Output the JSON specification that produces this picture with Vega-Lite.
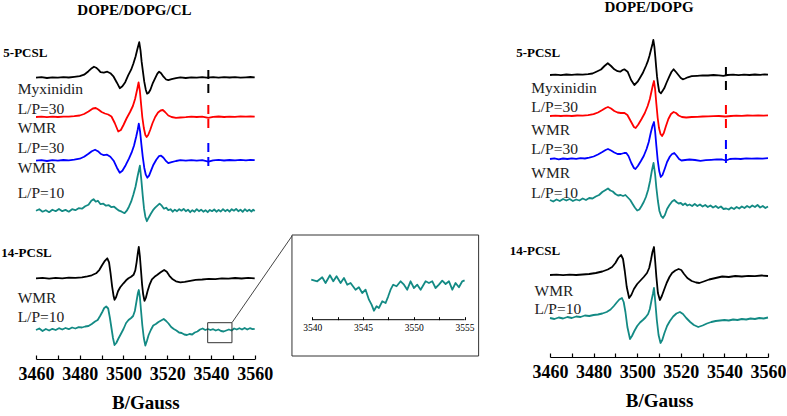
{
"$schema": "https://vega.github.io/schema/vega-lite/v6.json",
"background": "white",
"padding": {"left": 1, "top": 0, "right": 0, "bottom": 0},
"spacing": 20,
"bounds": "flush",
"config": {
  "view": {"stroke": null},
  "font": "Liberation Serif",
  "axis": {"grid": false, "labelFont": "Liberation Serif", "labelFontSize": 18, "labelFontWeight": "bold", "labelColor": "#000", "titleFont": "Liberation Serif", "titleFontSize": 19, "titleFontWeight": "bold", "titleColor": "#000", "domainColor": "#000", "tickColor": "#000", "domainWidth": 1.2, "tickWidth": 1.2, "labelFlush": false, "labelOverlap": false}
},
"datasets": {
"left": [
{"p":"5","s":"ctrl","x":3460,"y":281.3},{"p":"5","s":"ctrl","x":3462.5,"y":281.8},{"p":"5","s":"ctrl","x":3465,"y":281.0},{"p":"5","s":"ctrl","x":3467.5,"y":281.7},{"p":"5","s":"ctrl","x":3470,"y":281.3},{"p":"5","s":"ctrl","x":3472.5,"y":281.9},{"p":"5","s":"ctrl","x":3475,"y":281.5},{"p":"5","s":"ctrl","x":3477.5,"y":282.1},{"p":"5","s":"ctrl","x":3480,"y":282.8},{"p":"5","s":"ctrl","x":3482,"y":284.3},{"p":"5","s":"ctrl","x":3484,"y":287.8},{"p":"5","s":"ctrl","x":3485.5,"y":290.8},{"p":"5","s":"ctrl","x":3486.5,"y":292.3},{"p":"5","s":"ctrl","x":3487.5,"y":291.3},{"p":"5","s":"ctrl","x":3488.5,"y":289.3},{"p":"5","s":"ctrl","x":3489.5,"y":286.8},{"p":"5","s":"ctrl","x":3491,"y":286.3},{"p":"5","s":"ctrl","x":3492.6,"y":287.3},{"p":"5","s":"ctrl","x":3494,"y":285.8},{"p":"5","s":"ctrl","x":3495.5,"y":282.3},{"p":"5","s":"ctrl","x":3497,"y":276.3},{"p":"5","s":"ctrl","x":3498.3,"y":270.8},{"p":"5","s":"ctrl","x":3499.5,"y":272.8},{"p":"5","s":"ctrl","x":3500.8,"y":276.8},{"p":"5","s":"ctrl","x":3502.2,"y":283.8},{"p":"5","s":"ctrl","x":3503.5,"y":289.3},{"p":"5","s":"ctrl","x":3504.5,"y":295.3},{"p":"5","s":"ctrl","x":3505.5,"y":302.3},{"p":"5","s":"ctrl","x":3506.4,"y":310.3},{"p":"5","s":"ctrl","x":3507.2,"y":316.8},{"p":"5","s":"ctrl","x":3507.8,"y":308.3},{"p":"5","s":"ctrl","x":3508.3,"y":297.3},{"p":"5","s":"ctrl","x":3508.9,"y":287.3},{"p":"5","s":"ctrl","x":3509.5,"y":277.3},{"p":"5","s":"ctrl","x":3510.2,"y":269.3},{"p":"5","s":"ctrl","x":3510.8,"y":265.3},{"p":"5","s":"ctrl","x":3511.5,"y":266.3},{"p":"5","s":"ctrl","x":3512.3,"y":269.3},{"p":"5","s":"ctrl","x":3513.3,"y":275.3},{"p":"5","s":"ctrl","x":3514.5,"y":280.8},{"p":"5","s":"ctrl","x":3515.5,"y":285.3},{"p":"5","s":"ctrl","x":3516.3,"y":287.3},{"p":"5","s":"ctrl","x":3517.2,"y":285.8},{"p":"5","s":"ctrl","x":3518.3,"y":282.3},{"p":"5","s":"ctrl","x":3519.5,"y":279.5},{"p":"5","s":"ctrl","x":3520.5,"y":278.8},{"p":"5","s":"ctrl","x":3522,"y":279.8},{"p":"5","s":"ctrl","x":3524,"y":280.8},{"p":"5","s":"ctrl","x":3526,"y":281.6},{"p":"5","s":"ctrl","x":3528.5,"y":281.0},{"p":"5","s":"ctrl","x":3531,"y":281.7},{"p":"5","s":"ctrl","x":3533.5,"y":281.3},{"p":"5","s":"ctrl","x":3536,"y":281.8},{"p":"5","s":"ctrl","x":3538,"y":281.3},{"p":"5","s":"ctrl","x":3541,"y":281.8},{"p":"5","s":"ctrl","x":3543.5,"y":281.3},{"p":"5","s":"ctrl","x":3546,"y":281.9},{"p":"5","s":"ctrl","x":3548.5,"y":281.5},{"p":"5","s":"ctrl","x":3551,"y":281.8},{"p":"5","s":"ctrl","x":3553.5,"y":281.3},{"p":"5","s":"ctrl","x":3556,"y":281.7},{"p":"5","s":"ctrl","x":3558,"y":282.0},{"p":"5","s":"ctrl","x":3560,"y":281.6},
{"p":"5","s":"myx","x":3460,"y":242},{"p":"5","s":"myx","x":3462.5,"y":242.3},{"p":"5","s":"myx","x":3465,"y":241.8},{"p":"5","s":"myx","x":3467.5,"y":242.3},{"p":"5","s":"myx","x":3470,"y":242},{"p":"5","s":"myx","x":3472.5,"y":242.4},{"p":"5","s":"myx","x":3475,"y":242.3},{"p":"5","s":"myx","x":3477.5,"y":242.8},{"p":"5","s":"myx","x":3480,"y":243.5},{"p":"5","s":"myx","x":3482,"y":245},{"p":"5","s":"myx","x":3484,"y":247.5},{"p":"5","s":"myx","x":3486,"y":250.5},{"p":"5","s":"myx","x":3487.3,"y":251},{"p":"5","s":"myx","x":3488.5,"y":249.5},{"p":"5","s":"myx","x":3490,"y":247},{"p":"5","s":"myx","x":3491.5,"y":245.5},{"p":"5","s":"myx","x":3493,"y":244.5},{"p":"5","s":"myx","x":3494.5,"y":242.5},{"p":"5","s":"myx","x":3496,"y":236},{"p":"5","s":"myx","x":3497.6,"y":227.5},{"p":"5","s":"myx","x":3498.8,"y":229},{"p":"5","s":"myx","x":3500,"y":234},{"p":"5","s":"myx","x":3501.5,"y":241},{"p":"5","s":"myx","x":3503,"y":247},{"p":"5","s":"myx","x":3504.3,"y":253},{"p":"5","s":"myx","x":3505.3,"y":260},{"p":"5","s":"myx","x":3506.2,"y":269},{"p":"5","s":"myx","x":3506.9,"y":276.5},{"p":"5","s":"myx","x":3507.5,"y":268},{"p":"5","s":"myx","x":3508,"y":256},{"p":"5","s":"myx","x":3508.6,"y":242},{"p":"5","s":"myx","x":3509.3,"y":231},{"p":"5","s":"myx","x":3510,"y":224},{"p":"5","s":"myx","x":3510.6,"y":222},{"p":"5","s":"myx","x":3511.3,"y":224},{"p":"5","s":"myx","x":3512.2,"y":229},{"p":"5","s":"myx","x":3513.3,"y":236},{"p":"5","s":"myx","x":3514.5,"y":242},{"p":"5","s":"myx","x":3515.8,"y":246.5},{"p":"5","s":"myx","x":3517,"y":248.5},{"p":"5","s":"myx","x":3518,"y":249},{"p":"5","s":"myx","x":3519,"y":247},{"p":"5","s":"myx","x":3520.5,"y":243.5},{"p":"5","s":"myx","x":3522,"y":242},{"p":"5","s":"myx","x":3524,"y":241.2},{"p":"5","s":"myx","x":3526,"y":241.5},{"p":"5","s":"myx","x":3528.5,"y":241.8},{"p":"5","s":"myx","x":3531,"y":242.3},{"p":"5","s":"myx","x":3533.5,"y":242},{"p":"5","s":"myx","x":3536,"y":242.3},{"p":"5","s":"myx","x":3538.8,"y":241.2},{"p":"5","s":"myx","x":3541,"y":242.2},{"p":"5","s":"myx","x":3543.5,"y":242.5},{"p":"5","s":"myx","x":3546,"y":242},{"p":"5","s":"myx","x":3548.5,"y":242.4},{"p":"5","s":"myx","x":3551,"y":242.2},{"p":"5","s":"myx","x":3553.5,"y":242.6},{"p":"5","s":"myx","x":3556,"y":242.3},{"p":"5","s":"myx","x":3558,"y":242.6},{"p":"5","s":"myx","x":3560,"y":242.4},
{"p":"5","s":"wmr30","x":3460,"y":198.3},{"p":"5","s":"wmr30","x":3462.5,"y":198.8},{"p":"5","s":"wmr30","x":3465,"y":198.0},{"p":"5","s":"wmr30","x":3467.5,"y":198.9},{"p":"5","s":"wmr30","x":3470,"y":198.3},{"p":"5","s":"wmr30","x":3472.5,"y":199.0},{"p":"5","s":"wmr30","x":3475,"y":198.6},{"p":"5","s":"wmr30","x":3477.5,"y":199.3},{"p":"5","s":"wmr30","x":3480,"y":200.3},{"p":"5","s":"wmr30","x":3482,"y":202.3},{"p":"5","s":"wmr30","x":3484,"y":205.3},{"p":"5","s":"wmr30","x":3485.5,"y":207.8},{"p":"5","s":"wmr30","x":3487,"y":209.3},{"p":"5","s":"wmr30","x":3488.3,"y":207.8},{"p":"5","s":"wmr30","x":3489.5,"y":205.3},{"p":"5","s":"wmr30","x":3491,"y":203.8},{"p":"5","s":"wmr30","x":3492.5,"y":204.3},{"p":"5","s":"wmr30","x":3494,"y":202.3},{"p":"5","s":"wmr30","x":3495.5,"y":198.3},{"p":"5","s":"wmr30","x":3497,"y":191.3},{"p":"5","s":"wmr30","x":3498.3,"y":186.3},{"p":"5","s":"wmr30","x":3499.5,"y":188.3},{"p":"5","s":"wmr30","x":3501,"y":193.8},{"p":"5","s":"wmr30","x":3502.5,"y":200.3},{"p":"5","s":"wmr30","x":3503.7,"y":206.3},{"p":"5","s":"wmr30","x":3504.8,"y":213.3},{"p":"5","s":"wmr30","x":3505.8,"y":222.3},{"p":"5","s":"wmr30","x":3506.5,"y":229.3},{"p":"5","s":"wmr30","x":3507,"y":235.3},{"p":"5","s":"wmr30","x":3507.6,"y":227.3},{"p":"5","s":"wmr30","x":3508.2,"y":214.3},{"p":"5","s":"wmr30","x":3508.8,"y":202.3},{"p":"5","s":"wmr30","x":3509.5,"y":191.3},{"p":"5","s":"wmr30","x":3510.2,"y":184.3},{"p":"5","s":"wmr30","x":3510.9,"y":181.3},{"p":"5","s":"wmr30","x":3511.7,"y":183.3},{"p":"5","s":"wmr30","x":3512.6,"y":188.3},{"p":"5","s":"wmr30","x":3513.7,"y":194.3},{"p":"5","s":"wmr30","x":3515,"y":199.3},{"p":"5","s":"wmr30","x":3516.2,"y":202.8},{"p":"5","s":"wmr30","x":3517.2,"y":203.3},{"p":"5","s":"wmr30","x":3518.3,"y":201.3},{"p":"5","s":"wmr30","x":3519.5,"y":197.8},{"p":"5","s":"wmr30","x":3520.5,"y":195.8},{"p":"5","s":"wmr30","x":3522,"y":196.8},{"p":"5","s":"wmr30","x":3524,"y":198.0},{"p":"5","s":"wmr30","x":3526,"y":198.8},{"p":"5","s":"wmr30","x":3528.5,"y":198.3},{"p":"5","s":"wmr30","x":3531,"y":198.9},{"p":"5","s":"wmr30","x":3533.5,"y":198.3},{"p":"5","s":"wmr30","x":3536,"y":198.8},{"p":"5","s":"wmr30","x":3538.8,"y":197.3},{"p":"5","s":"wmr30","x":3541,"y":198.7},{"p":"5","s":"wmr30","x":3543.5,"y":199.1},{"p":"5","s":"wmr30","x":3546,"y":198.5},{"p":"5","s":"wmr30","x":3548.5,"y":199.0},{"p":"5","s":"wmr30","x":3551,"y":198.6},{"p":"5","s":"wmr30","x":3553.5,"y":199.1},{"p":"5","s":"wmr30","x":3556,"y":198.7},{"p":"5","s":"wmr30","x":3558,"y":199.2},{"p":"5","s":"wmr30","x":3560,"y":198.9},
{"p":"5","s":"wmr10","x":3460,"y":148.3},{"p":"5","s":"wmr10","x":3461.5,"y":149.8},{"p":"5","s":"wmr10","x":3463,"y":147.3},{"p":"5","s":"wmr10","x":3464.5,"y":148.8},{"p":"5","s":"wmr10","x":3466,"y":146.8},{"p":"5","s":"wmr10","x":3467.5,"y":149.3},{"p":"5","s":"wmr10","x":3469,"y":147.8},{"p":"5","s":"wmr10","x":3470.5,"y":150.1},{"p":"5","s":"wmr10","x":3472,"y":147.8},{"p":"5","s":"wmr10","x":3473.5,"y":149.1},{"p":"5","s":"wmr10","x":3475,"y":147.3},{"p":"5","s":"wmr10","x":3476.5,"y":149.8},{"p":"5","s":"wmr10","x":3478,"y":148.8},{"p":"5","s":"wmr10","x":3479.5,"y":150.8},{"p":"5","s":"wmr10","x":3481,"y":150.3},{"p":"5","s":"wmr10","x":3482.5,"y":152.8},{"p":"5","s":"wmr10","x":3484,"y":154.3},{"p":"5","s":"wmr10","x":3485.3,"y":158.3},{"p":"5","s":"wmr10","x":3486.3,"y":159.8},{"p":"5","s":"wmr10","x":3487.3,"y":157.3},{"p":"5","s":"wmr10","x":3488.3,"y":158.3},{"p":"5","s":"wmr10","x":3489.5,"y":154.8},{"p":"5","s":"wmr10","x":3490.8,"y":155.3},{"p":"5","s":"wmr10","x":3492,"y":153.3},{"p":"5","s":"wmr10","x":3493.3,"y":153.8},{"p":"5","s":"wmr10","x":3494.5,"y":151.8},{"p":"5","s":"wmr10","x":3495.7,"y":152.3},{"p":"5","s":"wmr10","x":3496.8,"y":150.3},{"p":"5","s":"wmr10","x":3498,"y":148.3},{"p":"5","s":"wmr10","x":3499.2,"y":147.3},{"p":"5","s":"wmr10","x":3500.5,"y":145.8},{"p":"5","s":"wmr10","x":3501.5,"y":148.3},{"p":"5","s":"wmr10","x":3502.5,"y":152.3},{"p":"5","s":"wmr10","x":3503.5,"y":157.3},{"p":"5","s":"wmr10","x":3504.5,"y":164.3},{"p":"5","s":"wmr10","x":3505.5,"y":172.3},{"p":"5","s":"wmr10","x":3506.5,"y":183.3},{"p":"5","s":"wmr10","x":3507.5,"y":193.3},{"p":"5","s":"wmr10","x":3508.2,"y":178.3},{"p":"5","s":"wmr10","x":3508.8,"y":163.3},{"p":"5","s":"wmr10","x":3509.4,"y":150.3},{"p":"5","s":"wmr10","x":3510,"y":142.3},{"p":"5","s":"wmr10","x":3510.7,"y":137.8},{"p":"5","s":"wmr10","x":3511.5,"y":141.3},{"p":"5","s":"wmr10","x":3512.5,"y":145.3},{"p":"5","s":"wmr10","x":3513.5,"y":148.8},{"p":"5","s":"wmr10","x":3514.5,"y":151.3},{"p":"5","s":"wmr10","x":3515.5,"y":153.3},{"p":"5","s":"wmr10","x":3516.5,"y":155.3},{"p":"5","s":"wmr10","x":3517.5,"y":153.3},{"p":"5","s":"wmr10","x":3518.5,"y":150.3},{"p":"5","s":"wmr10","x":3519.5,"y":151.3},{"p":"5","s":"wmr10","x":3520.5,"y":148.8},{"p":"5","s":"wmr10","x":3521.5,"y":149.8},{"p":"5","s":"wmr10","x":3522.5,"y":147.3},{"p":"5","s":"wmr10","x":3523.5,"y":149.3},{"p":"5","s":"wmr10","x":3524.5,"y":147.8},{"p":"5","s":"wmr10","x":3525.5,"y":149.8},{"p":"5","s":"wmr10","x":3526.5,"y":148.3},{"p":"5","s":"wmr10","x":3527.5,"y":150.1},{"p":"5","s":"wmr10","x":3528.5,"y":147.8},{"p":"5","s":"wmr10","x":3529.5,"y":149.3},{"p":"5","s":"wmr10","x":3530.5,"y":146.8},{"p":"5","s":"wmr10","x":3531.5,"y":148.8},{"p":"5","s":"wmr10","x":3532.5,"y":147.3},{"p":"5","s":"wmr10","x":3533.5,"y":149.8},{"p":"5","s":"wmr10","x":3534.5,"y":147.8},{"p":"5","s":"wmr10","x":3535.5,"y":149.3},{"p":"5","s":"wmr10","x":3536.5,"y":147.3},{"p":"5","s":"wmr10","x":3537.5,"y":148.8},{"p":"5","s":"wmr10","x":3538.5,"y":146.8},{"p":"5","s":"wmr10","x":3539.5,"y":149.1},{"p":"5","s":"wmr10","x":3540.5,"y":147.8},{"p":"5","s":"wmr10","x":3541.5,"y":149.5},{"p":"5","s":"wmr10","x":3542.5,"y":147.3},{"p":"5","s":"wmr10","x":3543.5,"y":149.1},{"p":"5","s":"wmr10","x":3544.5,"y":147.5},{"p":"5","s":"wmr10","x":3545.5,"y":149.8},{"p":"5","s":"wmr10","x":3546.5,"y":147.8},{"p":"5","s":"wmr10","x":3547.5,"y":149.3},{"p":"5","s":"wmr10","x":3548.5,"y":147.3},{"p":"5","s":"wmr10","x":3549.5,"y":149.8},{"p":"5","s":"wmr10","x":3550.5,"y":148.3},{"p":"5","s":"wmr10","x":3551.5,"y":150.1},{"p":"5","s":"wmr10","x":3552.5,"y":147.8},{"p":"5","s":"wmr10","x":3553.5,"y":149.3},{"p":"5","s":"wmr10","x":3554.5,"y":147.1},{"p":"5","s":"wmr10","x":3555.5,"y":149.8},{"p":"5","s":"wmr10","x":3556.5,"y":147.8},{"p":"5","s":"wmr10","x":3557.5,"y":149.3},{"p":"5","s":"wmr10","x":3558.5,"y":147.5},{"p":"5","s":"wmr10","x":3559.3,"y":149.3},{"p":"5","s":"wmr10","x":3560,"y":148.0},
{"p":"14","s":"ctrl","x":3460,"y":80.7},{"p":"14","s":"ctrl","x":3463,"y":81.2},{"p":"14","s":"ctrl","x":3466,"y":80.4},{"p":"14","s":"ctrl","x":3469,"y":81.1},{"p":"14","s":"ctrl","x":3472,"y":80.7},{"p":"14","s":"ctrl","x":3475,"y":81.3},{"p":"14","s":"ctrl","x":3478,"y":81.2},{"p":"14","s":"ctrl","x":3481,"y":81.7},{"p":"14","s":"ctrl","x":3483.5,"y":82.7},{"p":"14","s":"ctrl","x":3485.5,"y":83.7},{"p":"14","s":"ctrl","x":3487.5,"y":85.7},{"p":"14","s":"ctrl","x":3489,"y":89.2},{"p":"14","s":"ctrl","x":3490.2,"y":93.7},{"p":"14","s":"ctrl","x":3491.5,"y":98.2},{"p":"14","s":"ctrl","x":3492.6,"y":100.7},{"p":"14","s":"ctrl","x":3493.4,"y":96.7},{"p":"14","s":"ctrl","x":3494.1,"y":85.7},{"p":"14","s":"ctrl","x":3494.8,"y":72.7},{"p":"14","s":"ctrl","x":3495.5,"y":62.7},{"p":"14","s":"ctrl","x":3495.9,"y":59.2},{"p":"14","s":"ctrl","x":3496.6,"y":61.7},{"p":"14","s":"ctrl","x":3497.5,"y":67.7},{"p":"14","s":"ctrl","x":3498.5,"y":71.7},{"p":"14","s":"ctrl","x":3500,"y":75.7},{"p":"14","s":"ctrl","x":3501.2,"y":78.7},{"p":"14","s":"ctrl","x":3502.3,"y":80.7},{"p":"14","s":"ctrl","x":3503.5,"y":82.2},{"p":"14","s":"ctrl","x":3504.6,"y":84.2},{"p":"14","s":"ctrl","x":3505.4,"y":88.7},{"p":"14","s":"ctrl","x":3506,"y":96.7},{"p":"14","s":"ctrl","x":3506.6,"y":106.7},{"p":"14","s":"ctrl","x":3507,"y":112.2},{"p":"14","s":"ctrl","x":3507.5,"y":102.7},{"p":"14","s":"ctrl","x":3508,"y":88.7},{"p":"14","s":"ctrl","x":3508.5,"y":74.7},{"p":"14","s":"ctrl","x":3509,"y":64.7},{"p":"14","s":"ctrl","x":3509.6,"y":58.2},{"p":"14","s":"ctrl","x":3510.3,"y":61.7},{"p":"14","s":"ctrl","x":3511,"y":67.7},{"p":"14","s":"ctrl","x":3512,"y":74.7},{"p":"14","s":"ctrl","x":3513,"y":79.7},{"p":"14","s":"ctrl","x":3514.2,"y":82.2},{"p":"14","s":"ctrl","x":3515.5,"y":84.2},{"p":"14","s":"ctrl","x":3517,"y":86.7},{"p":"14","s":"ctrl","x":3518.6,"y":89.0},{"p":"14","s":"ctrl","x":3519.8,"y":87.2},{"p":"14","s":"ctrl","x":3521,"y":83.2},{"p":"14","s":"ctrl","x":3522.5,"y":79.7},{"p":"14","s":"ctrl","x":3524,"y":77.7},{"p":"14","s":"ctrl","x":3526,"y":76.7},{"p":"14","s":"ctrl","x":3528,"y":77.2},{"p":"14","s":"ctrl","x":3530.5,"y":78.2},{"p":"14","s":"ctrl","x":3533,"y":79.2},{"p":"14","s":"ctrl","x":3536,"y":79.5},{"p":"14","s":"ctrl","x":3539,"y":80.2},{"p":"14","s":"ctrl","x":3542,"y":79.9},{"p":"14","s":"ctrl","x":3545,"y":80.7},{"p":"14","s":"ctrl","x":3548,"y":80.3},{"p":"14","s":"ctrl","x":3551,"y":81.0},{"p":"14","s":"ctrl","x":3554,"y":80.5},{"p":"14","s":"ctrl","x":3557,"y":81.1},{"p":"14","s":"ctrl","x":3560,"y":80.7},
{"p":"14","s":"wmr10","x":3460,"y":29},{"p":"14","s":"wmr10","x":3461.5,"y":30.5},{"p":"14","s":"wmr10","x":3463,"y":28},{"p":"14","s":"wmr10","x":3464.5,"y":30},{"p":"14","s":"wmr10","x":3466,"y":28.5},{"p":"14","s":"wmr10","x":3467.5,"y":30.2},{"p":"14","s":"wmr10","x":3469,"y":29},{"p":"14","s":"wmr10","x":3470.5,"y":30.8},{"p":"14","s":"wmr10","x":3472,"y":29.5},{"p":"14","s":"wmr10","x":3473.5,"y":31},{"p":"14","s":"wmr10","x":3475,"y":29.8},{"p":"14","s":"wmr10","x":3476.5,"y":31.5},{"p":"14","s":"wmr10","x":3478,"y":30.5},{"p":"14","s":"wmr10","x":3479.5,"y":31.8},{"p":"14","s":"wmr10","x":3481,"y":31.5},{"p":"14","s":"wmr10","x":3482.5,"y":32.5},{"p":"14","s":"wmr10","x":3484,"y":33},{"p":"14","s":"wmr10","x":3485.5,"y":35},{"p":"14","s":"wmr10","x":3487,"y":37.5},{"p":"14","s":"wmr10","x":3488.2,"y":39},{"p":"14","s":"wmr10","x":3489.3,"y":43},{"p":"14","s":"wmr10","x":3490.3,"y":47},{"p":"14","s":"wmr10","x":3491.2,"y":51},{"p":"14","s":"wmr10","x":3492.1,"y":52.5},{"p":"14","s":"wmr10","x":3493,"y":50.5},{"p":"14","s":"wmr10","x":3493.8,"y":41},{"p":"14","s":"wmr10","x":3494.5,"y":31},{"p":"14","s":"wmr10","x":3495.2,"y":21},{"p":"14","s":"wmr10","x":3495.9,"y":14},{"p":"14","s":"wmr10","x":3496.7,"y":16},{"p":"14","s":"wmr10","x":3497.7,"y":20.5},{"p":"14","s":"wmr10","x":3498.8,"y":25},{"p":"14","s":"wmr10","x":3500,"y":30},{"p":"14","s":"wmr10","x":3501.2,"y":36},{"p":"14","s":"wmr10","x":3502.3,"y":39},{"p":"14","s":"wmr10","x":3503.5,"y":41},{"p":"14","s":"wmr10","x":3504.4,"y":43},{"p":"14","s":"wmr10","x":3505.2,"y":48},{"p":"14","s":"wmr10","x":3505.9,"y":57},{"p":"14","s":"wmr10","x":3506.6,"y":66},{"p":"14","s":"wmr10","x":3507,"y":69},{"p":"14","s":"wmr10","x":3507.5,"y":62},{"p":"14","s":"wmr10","x":3508,"y":49},{"p":"14","s":"wmr10","x":3508.6,"y":34},{"p":"14","s":"wmr10","x":3509.3,"y":21},{"p":"14","s":"wmr10","x":3510,"y":13.5},{"p":"14","s":"wmr10","x":3510.7,"y":18},{"p":"14","s":"wmr10","x":3511.5,"y":24},{"p":"14","s":"wmr10","x":3512.5,"y":29},{"p":"14","s":"wmr10","x":3513.6,"y":33.5},{"p":"14","s":"wmr10","x":3514.8,"y":35},{"p":"14","s":"wmr10","x":3516,"y":37},{"p":"14","s":"wmr10","x":3517.2,"y":38.5},{"p":"14","s":"wmr10","x":3518.4,"y":40},{"p":"14","s":"wmr10","x":3519.5,"y":38},{"p":"14","s":"wmr10","x":3520.6,"y":35.5},{"p":"14","s":"wmr10","x":3521.8,"y":32},{"p":"14","s":"wmr10","x":3523,"y":30},{"p":"14","s":"wmr10","x":3524.2,"y":28.5},{"p":"14","s":"wmr10","x":3525.4,"y":26.5},{"p":"14","s":"wmr10","x":3526.6,"y":26},{"p":"14","s":"wmr10","x":3527.8,"y":24.5},{"p":"14","s":"wmr10","x":3529,"y":24},{"p":"14","s":"wmr10","x":3530.2,"y":25},{"p":"14","s":"wmr10","x":3531.4,"y":24.5},{"p":"14","s":"wmr10","x":3532.6,"y":26.5},{"p":"14","s":"wmr10","x":3533.8,"y":27.5},{"p":"14","s":"wmr10","x":3535,"y":29.5},{"p":"14","s":"wmr10","x":3536.2,"y":30.5},{"p":"14","s":"wmr10","x":3537.4,"y":29},{"p":"14","s":"wmr10","x":3538.6,"y":30},{"p":"14","s":"wmr10","x":3539.8,"y":29},{"p":"14","s":"wmr10","x":3541,"y":29.8},{"p":"14","s":"wmr10","x":3542.2,"y":28.5},{"p":"14","s":"wmr10","x":3543.4,"y":29.5},{"p":"14","s":"wmr10","x":3544.6,"y":28},{"p":"14","s":"wmr10","x":3545.8,"y":27.5},{"p":"14","s":"wmr10","x":3547,"y":28.5},{"p":"14","s":"wmr10","x":3548.2,"y":29.5},{"p":"14","s":"wmr10","x":3549.4,"y":28.5},{"p":"14","s":"wmr10","x":3550.6,"y":30.5},{"p":"14","s":"wmr10","x":3551.8,"y":29.5},{"p":"14","s":"wmr10","x":3553,"y":30.8},{"p":"14","s":"wmr10","x":3554.2,"y":29.5},{"p":"14","s":"wmr10","x":3555.4,"y":31},{"p":"14","s":"wmr10","x":3556.6,"y":29.5},{"p":"14","s":"wmr10","x":3557.8,"y":30.8},{"p":"14","s":"wmr10","x":3559,"y":29.8},{"p":"14","s":"wmr10","x":3560,"y":30.2}
],
"right": [
{"p":"5","s":"ctrl","x":3460,"y":282},{"p":"5","s":"ctrl","x":3462.5,"y":282.4},{"p":"5","s":"ctrl","x":3465,"y":281.8},{"p":"5","s":"ctrl","x":3467.5,"y":282.5},{"p":"5","s":"ctrl","x":3470,"y":282.1},{"p":"5","s":"ctrl","x":3472.5,"y":282.6},{"p":"5","s":"ctrl","x":3475,"y":282.3},{"p":"5","s":"ctrl","x":3477.5,"y":282.8},{"p":"5","s":"ctrl","x":3479.5,"y":283.5},{"p":"5","s":"ctrl","x":3481.5,"y":285.5},{"p":"5","s":"ctrl","x":3483.4,"y":287.5},{"p":"5","s":"ctrl","x":3485,"y":291},{"p":"5","s":"ctrl","x":3486.5,"y":293.7},{"p":"5","s":"ctrl","x":3488,"y":291},{"p":"5","s":"ctrl","x":3489.5,"y":287.7},{"p":"5","s":"ctrl","x":3491,"y":285.8},{"p":"5","s":"ctrl","x":3492.2,"y":285.3},{"p":"5","s":"ctrl","x":3493.3,"y":287},{"p":"5","s":"ctrl","x":3494.1,"y":287.7},{"p":"5","s":"ctrl","x":3495.6,"y":285.3},{"p":"5","s":"ctrl","x":3497.2,"y":277},{"p":"5","s":"ctrl","x":3498.7,"y":272},{"p":"5","s":"ctrl","x":3500.2,"y":275.3},{"p":"5","s":"ctrl","x":3501.5,"y":280},{"p":"5","s":"ctrl","x":3502.5,"y":283.7},{"p":"5","s":"ctrl","x":3504,"y":291},{"p":"5","s":"ctrl","x":3504.8,"y":295.3},{"p":"5","s":"ctrl","x":3505.6,"y":301},{"p":"5","s":"ctrl","x":3506.3,"y":307},{"p":"5","s":"ctrl","x":3507,"y":313},{"p":"5","s":"ctrl","x":3507.4,"y":317},{"p":"5","s":"ctrl","x":3507.9,"y":310},{"p":"5","s":"ctrl","x":3508.3,"y":300.3},{"p":"5","s":"ctrl","x":3508.7,"y":290},{"p":"5","s":"ctrl","x":3509.1,"y":280.3},{"p":"5","s":"ctrl","x":3509.6,"y":272},{"p":"5","s":"ctrl","x":3510.1,"y":265.3},{"p":"5","s":"ctrl","x":3510.9,"y":263.7},{"p":"5","s":"ctrl","x":3511.6,"y":266},{"p":"5","s":"ctrl","x":3512.4,"y":268.7},{"p":"5","s":"ctrl","x":3513.5,"y":274.5},{"p":"5","s":"ctrl","x":3514.7,"y":280.3},{"p":"5","s":"ctrl","x":3515.7,"y":285},{"p":"5","s":"ctrl","x":3516.7,"y":287.7},{"p":"5","s":"ctrl","x":3517.8,"y":285},{"p":"5","s":"ctrl","x":3518.9,"y":282},{"p":"5","s":"ctrl","x":3520,"y":279},{"p":"5","s":"ctrl","x":3520.9,"y":277.7},{"p":"5","s":"ctrl","x":3522,"y":278.5},{"p":"5","s":"ctrl","x":3523.2,"y":279.7},{"p":"5","s":"ctrl","x":3525,"y":280.8},{"p":"5","s":"ctrl","x":3527.5,"y":281.2},{"p":"5","s":"ctrl","x":3530,"y":281.7},{"p":"5","s":"ctrl","x":3532.5,"y":281.5},{"p":"5","s":"ctrl","x":3535,"y":282},{"p":"5","s":"ctrl","x":3537.5,"y":281.7},{"p":"5","s":"ctrl","x":3539.5,"y":281.2},{"p":"5","s":"ctrl","x":3541.5,"y":282},{"p":"5","s":"ctrl","x":3544,"y":282.3},{"p":"5","s":"ctrl","x":3546.5,"y":281.8},{"p":"5","s":"ctrl","x":3549,"y":282.4},{"p":"5","s":"ctrl","x":3551.5,"y":282},{"p":"5","s":"ctrl","x":3554,"y":282.5},{"p":"5","s":"ctrl","x":3556.5,"y":282.2},{"p":"5","s":"ctrl","x":3558.5,"y":282.6},{"p":"5","s":"ctrl","x":3560,"y":282.3},
{"p":"5","s":"myx","x":3460,"y":241},{"p":"5","s":"myx","x":3462.5,"y":241.3},{"p":"5","s":"myx","x":3465,"y":241},{"p":"5","s":"myx","x":3467.5,"y":241.4},{"p":"5","s":"myx","x":3470,"y":241},{"p":"5","s":"myx","x":3472.5,"y":241.5},{"p":"5","s":"myx","x":3475,"y":241.3},{"p":"5","s":"myx","x":3477.5,"y":241.8},{"p":"5","s":"myx","x":3480,"y":242.8},{"p":"5","s":"myx","x":3482,"y":244.5},{"p":"5","s":"myx","x":3484,"y":247},{"p":"5","s":"myx","x":3485.5,"y":249},{"p":"5","s":"myx","x":3486.6,"y":250},{"p":"5","s":"myx","x":3488,"y":248.5},{"p":"5","s":"myx","x":3489.5,"y":246},{"p":"5","s":"myx","x":3491,"y":244.5},{"p":"5","s":"myx","x":3492.5,"y":244},{"p":"5","s":"myx","x":3494,"y":244.2},{"p":"5","s":"myx","x":3495.5,"y":242},{"p":"5","s":"myx","x":3497,"y":236},{"p":"5","s":"myx","x":3498.5,"y":230},{"p":"5","s":"myx","x":3499.3,"y":229},{"p":"5","s":"myx","x":3500.5,"y":232.5},{"p":"5","s":"myx","x":3502,"y":238},{"p":"5","s":"myx","x":3503.5,"y":244},{"p":"5","s":"myx","x":3504.8,"y":251},{"p":"5","s":"myx","x":3505.8,"y":258},{"p":"5","s":"myx","x":3506.6,"y":266},{"p":"5","s":"myx","x":3507.2,"y":272},{"p":"5","s":"myx","x":3507.7,"y":276},{"p":"5","s":"myx","x":3508.2,"y":268},{"p":"5","s":"myx","x":3508.8,"y":253},{"p":"5","s":"myx","x":3509.4,"y":239},{"p":"5","s":"myx","x":3510,"y":229},{"p":"5","s":"myx","x":3510.7,"y":223},{"p":"5","s":"myx","x":3511.4,"y":221},{"p":"5","s":"myx","x":3512.2,"y":224},{"p":"5","s":"myx","x":3513.2,"y":231},{"p":"5","s":"myx","x":3514.3,"y":238},{"p":"5","s":"myx","x":3515.5,"y":243},{"p":"5","s":"myx","x":3516.7,"y":245},{"p":"5","s":"myx","x":3517.8,"y":244},{"p":"5","s":"myx","x":3519,"y":241.5},{"p":"5","s":"myx","x":3520.5,"y":240},{"p":"5","s":"myx","x":3522.5,"y":239.5},{"p":"5","s":"myx","x":3525,"y":240},{"p":"5","s":"myx","x":3527.5,"y":240.2},{"p":"5","s":"myx","x":3530,"y":240.5},{"p":"5","s":"myx","x":3532.5,"y":240.7},{"p":"5","s":"myx","x":3535,"y":240.8},{"p":"5","s":"myx","x":3537.5,"y":241},{"p":"5","s":"myx","x":3540.5,"y":240.5},{"p":"5","s":"myx","x":3543,"y":241},{"p":"5","s":"myx","x":3545.5,"y":241.3},{"p":"5","s":"myx","x":3548,"y":241.1},{"p":"5","s":"myx","x":3550.5,"y":241.5},{"p":"5","s":"myx","x":3553,"y":241.3},{"p":"5","s":"myx","x":3555.5,"y":241.6},{"p":"5","s":"myx","x":3558,"y":241.4},{"p":"5","s":"myx","x":3560,"y":241.7},
{"p":"5","s":"wmr30","x":3460,"y":198},{"p":"5","s":"wmr30","x":3462,"y":198.6},{"p":"5","s":"wmr30","x":3464,"y":197.7},{"p":"5","s":"wmr30","x":3466,"y":198.5},{"p":"5","s":"wmr30","x":3468,"y":198},{"p":"5","s":"wmr30","x":3470,"y":198.7},{"p":"5","s":"wmr30","x":3472,"y":198.2},{"p":"5","s":"wmr30","x":3474,"y":198.8},{"p":"5","s":"wmr30","x":3476,"y":198.5},{"p":"5","s":"wmr30","x":3478,"y":199.3},{"p":"5","s":"wmr30","x":3480,"y":200.5},{"p":"5","s":"wmr30","x":3482,"y":202.5},{"p":"5","s":"wmr30","x":3484,"y":205},{"p":"5","s":"wmr30","x":3485.5,"y":207},{"p":"5","s":"wmr30","x":3486.6,"y":208},{"p":"5","s":"wmr30","x":3488,"y":206.5},{"p":"5","s":"wmr30","x":3489.5,"y":204.5},{"p":"5","s":"wmr30","x":3491,"y":203},{"p":"5","s":"wmr30","x":3492.5,"y":203},{"p":"5","s":"wmr30","x":3494,"y":204},{"p":"5","s":"wmr30","x":3495,"y":204},{"p":"5","s":"wmr30","x":3496,"y":201},{"p":"5","s":"wmr30","x":3497.3,"y":194},{"p":"5","s":"wmr30","x":3498.5,"y":189},{"p":"5","s":"wmr30","x":3499.2,"y":188},{"p":"5","s":"wmr30","x":3500.3,"y":191},{"p":"5","s":"wmr30","x":3501.7,"y":196},{"p":"5","s":"wmr30","x":3503,"y":201},{"p":"5","s":"wmr30","x":3504.3,"y":208},{"p":"5","s":"wmr30","x":3505.3,"y":215},{"p":"5","s":"wmr30","x":3506.2,"y":224},{"p":"5","s":"wmr30","x":3507,"y":231},{"p":"5","s":"wmr30","x":3507.7,"y":235},{"p":"5","s":"wmr30","x":3508.2,"y":226},{"p":"5","s":"wmr30","x":3508.8,"y":211},{"p":"5","s":"wmr30","x":3509.4,"y":197},{"p":"5","s":"wmr30","x":3510.1,"y":186},{"p":"5","s":"wmr30","x":3510.8,"y":180},{"p":"5","s":"wmr30","x":3511.6,"y":182},{"p":"5","s":"wmr30","x":3512.6,"y":188},{"p":"5","s":"wmr30","x":3513.7,"y":195},{"p":"5","s":"wmr30","x":3515,"y":200.5},{"p":"5","s":"wmr30","x":3516,"y":203},{"p":"5","s":"wmr30","x":3517,"y":204},{"p":"5","s":"wmr30","x":3518,"y":201.5},{"p":"5","s":"wmr30","x":3519.2,"y":198},{"p":"5","s":"wmr30","x":3520.3,"y":196.5},{"p":"5","s":"wmr30","x":3522,"y":197},{"p":"5","s":"wmr30","x":3524,"y":197.5},{"p":"5","s":"wmr30","x":3526.5,"y":197},{"p":"5","s":"wmr30","x":3529,"y":196.2},{"p":"5","s":"wmr30","x":3531.5,"y":196.8},{"p":"5","s":"wmr30","x":3534,"y":197.2},{"p":"5","s":"wmr30","x":3536.5,"y":197.7},{"p":"5","s":"wmr30","x":3539,"y":197.5},{"p":"5","s":"wmr30","x":3540.7,"y":196.5},{"p":"5","s":"wmr30","x":3542.5,"y":198},{"p":"5","s":"wmr30","x":3545,"y":198.4},{"p":"5","s":"wmr30","x":3547.5,"y":198},{"p":"5","s":"wmr30","x":3550,"y":198.6},{"p":"5","s":"wmr30","x":3552.5,"y":198.3},{"p":"5","s":"wmr30","x":3555,"y":198.7},{"p":"5","s":"wmr30","x":3557.5,"y":198.4},{"p":"5","s":"wmr30","x":3560,"y":198.8},
{"p":"5","s":"wmr10","x":3460,"y":157},{"p":"5","s":"wmr10","x":3461.5,"y":155.5},{"p":"5","s":"wmr10","x":3463,"y":157.5},{"p":"5","s":"wmr10","x":3464.5,"y":156},{"p":"5","s":"wmr10","x":3466,"y":158},{"p":"5","s":"wmr10","x":3467.5,"y":156.5},{"p":"5","s":"wmr10","x":3469,"y":158},{"p":"5","s":"wmr10","x":3470.5,"y":156},{"p":"5","s":"wmr10","x":3472,"y":157.5},{"p":"5","s":"wmr10","x":3473.5,"y":156.5},{"p":"5","s":"wmr10","x":3475,"y":158.5},{"p":"5","s":"wmr10","x":3476.5,"y":157},{"p":"5","s":"wmr10","x":3478,"y":159},{"p":"5","s":"wmr10","x":3479.5,"y":158.5},{"p":"5","s":"wmr10","x":3481,"y":160.5},{"p":"5","s":"wmr10","x":3482.5,"y":162},{"p":"5","s":"wmr10","x":3484,"y":165},{"p":"5","s":"wmr10","x":3485.5,"y":167},{"p":"5","s":"wmr10","x":3486.6,"y":168.5},{"p":"5","s":"wmr10","x":3487.7,"y":166.5},{"p":"5","s":"wmr10","x":3488.8,"y":165.5},{"p":"5","s":"wmr10","x":3490,"y":163},{"p":"5","s":"wmr10","x":3491.2,"y":161.5},{"p":"5","s":"wmr10","x":3492.4,"y":162},{"p":"5","s":"wmr10","x":3493.5,"y":161},{"p":"5","s":"wmr10","x":3494.6,"y":162},{"p":"5","s":"wmr10","x":3495.7,"y":159.5},{"p":"5","s":"wmr10","x":3496.8,"y":157},{"p":"5","s":"wmr10","x":3497.9,"y":153},{"p":"5","s":"wmr10","x":3498.9,"y":149.5},{"p":"5","s":"wmr10","x":3500,"y":146.5},{"p":"5","s":"wmr10","x":3501,"y":147.5},{"p":"5","s":"wmr10","x":3502,"y":151},{"p":"5","s":"wmr10","x":3503,"y":155},{"p":"5","s":"wmr10","x":3504,"y":160},{"p":"5","s":"wmr10","x":3505,"y":167},{"p":"5","s":"wmr10","x":3505.9,"y":176},{"p":"5","s":"wmr10","x":3506.7,"y":186},{"p":"5","s":"wmr10","x":3507.5,"y":194},{"p":"5","s":"wmr10","x":3508.2,"y":183},{"p":"5","s":"wmr10","x":3508.8,"y":169},{"p":"5","s":"wmr10","x":3509.5,"y":156},{"p":"5","s":"wmr10","x":3510.2,"y":146},{"p":"5","s":"wmr10","x":3511,"y":141},{"p":"5","s":"wmr10","x":3511.8,"y":139},{"p":"5","s":"wmr10","x":3512.7,"y":142},{"p":"5","s":"wmr10","x":3513.7,"y":148},{"p":"5","s":"wmr10","x":3514.8,"y":152},{"p":"5","s":"wmr10","x":3516,"y":155.5},{"p":"5","s":"wmr10","x":3517,"y":157},{"p":"5","s":"wmr10","x":3518,"y":155},{"p":"5","s":"wmr10","x":3519,"y":153.5},{"p":"5","s":"wmr10","x":3520,"y":154},{"p":"5","s":"wmr10","x":3521,"y":152},{"p":"5","s":"wmr10","x":3522,"y":153.5},{"p":"5","s":"wmr10","x":3523,"y":151.5},{"p":"5","s":"wmr10","x":3524,"y":152.5},{"p":"5","s":"wmr10","x":3525.2,"y":151},{"p":"5","s":"wmr10","x":3526.4,"y":153},{"p":"5","s":"wmr10","x":3527.6,"y":151},{"p":"5","s":"wmr10","x":3528.8,"y":152.5},{"p":"5","s":"wmr10","x":3530,"y":150.5},{"p":"5","s":"wmr10","x":3531.2,"y":152},{"p":"5","s":"wmr10","x":3532.4,"y":150},{"p":"5","s":"wmr10","x":3533.6,"y":151.5},{"p":"5","s":"wmr10","x":3534.8,"y":149.5},{"p":"5","s":"wmr10","x":3536,"y":151},{"p":"5","s":"wmr10","x":3537.2,"y":149},{"p":"5","s":"wmr10","x":3538.4,"y":150.5},{"p":"5","s":"wmr10","x":3539.6,"y":148},{"p":"5","s":"wmr10","x":3540.8,"y":148.5},{"p":"5","s":"wmr10","x":3542,"y":147.5},{"p":"5","s":"wmr10","x":3543.2,"y":149.5},{"p":"5","s":"wmr10","x":3544.4,"y":148},{"p":"5","s":"wmr10","x":3545.6,"y":150},{"p":"5","s":"wmr10","x":3546.8,"y":148.5},{"p":"5","s":"wmr10","x":3548,"y":150.5},{"p":"5","s":"wmr10","x":3549.2,"y":149},{"p":"5","s":"wmr10","x":3550.4,"y":151},{"p":"5","s":"wmr10","x":3551.6,"y":149.5},{"p":"5","s":"wmr10","x":3552.8,"y":151.5},{"p":"5","s":"wmr10","x":3554,"y":150},{"p":"5","s":"wmr10","x":3555.2,"y":152},{"p":"5","s":"wmr10","x":3556.4,"y":149.5},{"p":"5","s":"wmr10","x":3557.6,"y":151},{"p":"5","s":"wmr10","x":3558.8,"y":149},{"p":"5","s":"wmr10","x":3560,"y":150.5},
{"p":"14","s":"ctrl","x":3460,"y":82},{"p":"14","s":"ctrl","x":3463,"y":82.4},{"p":"14","s":"ctrl","x":3466,"y":81.8},{"p":"14","s":"ctrl","x":3469,"y":82.3},{"p":"14","s":"ctrl","x":3472,"y":82},{"p":"14","s":"ctrl","x":3475,"y":82.5},{"p":"14","s":"ctrl","x":3478,"y":83},{"p":"14","s":"ctrl","x":3481,"y":84},{"p":"14","s":"ctrl","x":3484,"y":85.5},{"p":"14","s":"ctrl","x":3486.5,"y":87.5},{"p":"14","s":"ctrl","x":3488.5,"y":90},{"p":"14","s":"ctrl","x":3490,"y":94},{"p":"14","s":"ctrl","x":3491.3,"y":99},{"p":"14","s":"ctrl","x":3492.6,"y":102},{"p":"14","s":"ctrl","x":3493.5,"y":98},{"p":"14","s":"ctrl","x":3494.3,"y":86},{"p":"14","s":"ctrl","x":3495.2,"y":70},{"p":"14","s":"ctrl","x":3496.3,"y":59},{"p":"14","s":"ctrl","x":3497.3,"y":62},{"p":"14","s":"ctrl","x":3498.5,"y":68},{"p":"14","s":"ctrl","x":3500,"y":73},{"p":"14","s":"ctrl","x":3501.5,"y":76.5},{"p":"14","s":"ctrl","x":3503,"y":80},{"p":"14","s":"ctrl","x":3504.5,"y":84},{"p":"14","s":"ctrl","x":3505.5,"y":89},{"p":"14","s":"ctrl","x":3506.3,"y":97},{"p":"14","s":"ctrl","x":3507,"y":105},{"p":"14","s":"ctrl","x":3507.7,"y":110},{"p":"14","s":"ctrl","x":3508.2,"y":97},{"p":"14","s":"ctrl","x":3508.8,"y":80},{"p":"14","s":"ctrl","x":3509.5,"y":64},{"p":"14","s":"ctrl","x":3510.4,"y":57},{"p":"14","s":"ctrl","x":3511.3,"y":61},{"p":"14","s":"ctrl","x":3512.3,"y":67},{"p":"14","s":"ctrl","x":3513.5,"y":74},{"p":"14","s":"ctrl","x":3514.8,"y":80},{"p":"14","s":"ctrl","x":3516,"y":84},{"p":"14","s":"ctrl","x":3517.5,"y":86.5},{"p":"14","s":"ctrl","x":3519,"y":88},{"p":"14","s":"ctrl","x":3520.2,"y":87},{"p":"14","s":"ctrl","x":3521.5,"y":83},{"p":"14","s":"ctrl","x":3523,"y":79},{"p":"14","s":"ctrl","x":3525,"y":76},{"p":"14","s":"ctrl","x":3527,"y":74.5},{"p":"14","s":"ctrl","x":3528.5,"y":74},{"p":"14","s":"ctrl","x":3530.5,"y":75.5},{"p":"14","s":"ctrl","x":3533,"y":77.5},{"p":"14","s":"ctrl","x":3536,"y":79},{"p":"14","s":"ctrl","x":3539,"y":80.5},{"p":"14","s":"ctrl","x":3542,"y":80},{"p":"14","s":"ctrl","x":3545,"y":81},{"p":"14","s":"ctrl","x":3548,"y":80.5},{"p":"14","s":"ctrl","x":3551,"y":81.2},{"p":"14","s":"ctrl","x":3554,"y":80.8},{"p":"14","s":"ctrl","x":3557,"y":81.5},{"p":"14","s":"ctrl","x":3560,"y":81},
{"p":"14","s":"wmr10","x":3460,"y":39},{"p":"14","s":"wmr10","x":3462,"y":38},{"p":"14","s":"wmr10","x":3464,"y":39.5},{"p":"14","s":"wmr10","x":3466,"y":38.5},{"p":"14","s":"wmr10","x":3468,"y":40},{"p":"14","s":"wmr10","x":3470,"y":39},{"p":"14","s":"wmr10","x":3472,"y":40.5},{"p":"14","s":"wmr10","x":3474,"y":40},{"p":"14","s":"wmr10","x":3476,"y":41.5},{"p":"14","s":"wmr10","x":3478,"y":41},{"p":"14","s":"wmr10","x":3480,"y":42},{"p":"14","s":"wmr10","x":3482,"y":42.5},{"p":"14","s":"wmr10","x":3484,"y":43.5},{"p":"14","s":"wmr10","x":3486,"y":45},{"p":"14","s":"wmr10","x":3487.8,"y":47.5},{"p":"14","s":"wmr10","x":3489.3,"y":51},{"p":"14","s":"wmr10","x":3490.6,"y":54.5},{"p":"14","s":"wmr10","x":3491.8,"y":57.5},{"p":"14","s":"wmr10","x":3493,"y":59},{"p":"14","s":"wmr10","x":3493.8,"y":55},{"p":"14","s":"wmr10","x":3494.6,"y":45},{"p":"14","s":"wmr10","x":3495.5,"y":30},{"p":"14","s":"wmr10","x":3496.7,"y":18},{"p":"14","s":"wmr10","x":3497.6,"y":21},{"p":"14","s":"wmr10","x":3498.7,"y":26},{"p":"14","s":"wmr10","x":3500,"y":31},{"p":"14","s":"wmr10","x":3501.3,"y":34.5},{"p":"14","s":"wmr10","x":3502.6,"y":37},{"p":"14","s":"wmr10","x":3503.8,"y":39.5},{"p":"14","s":"wmr10","x":3505,"y":43},{"p":"14","s":"wmr10","x":3505.8,"y":48},{"p":"14","s":"wmr10","x":3506.6,"y":57},{"p":"14","s":"wmr10","x":3507.2,"y":63},{"p":"14","s":"wmr10","x":3507.7,"y":69},{"p":"14","s":"wmr10","x":3508.3,"y":55},{"p":"14","s":"wmr10","x":3509,"y":37},{"p":"14","s":"wmr10","x":3509.8,"y":22},{"p":"14","s":"wmr10","x":3510.7,"y":14},{"p":"14","s":"wmr10","x":3511.5,"y":17},{"p":"14","s":"wmr10","x":3512.5,"y":24},{"p":"14","s":"wmr10","x":3513.7,"y":31},{"p":"14","s":"wmr10","x":3515,"y":36},{"p":"14","s":"wmr10","x":3516.5,"y":40.5},{"p":"14","s":"wmr10","x":3518,"y":43.5},{"p":"14","s":"wmr10","x":3519.6,"y":45},{"p":"14","s":"wmr10","x":3521,"y":43},{"p":"14","s":"wmr10","x":3522.5,"y":39},{"p":"14","s":"wmr10","x":3524.3,"y":35},{"p":"14","s":"wmr10","x":3526,"y":32},{"p":"14","s":"wmr10","x":3528,"y":30},{"p":"14","s":"wmr10","x":3530,"y":31.5},{"p":"14","s":"wmr10","x":3532,"y":33.5},{"p":"14","s":"wmr10","x":3534,"y":35},{"p":"14","s":"wmr10","x":3536,"y":36},{"p":"14","s":"wmr10","x":3538,"y":36.5},{"p":"14","s":"wmr10","x":3540,"y":37},{"p":"14","s":"wmr10","x":3542,"y":36.5},{"p":"14","s":"wmr10","x":3544,"y":37.5},{"p":"14","s":"wmr10","x":3546,"y":37},{"p":"14","s":"wmr10","x":3548,"y":38},{"p":"14","s":"wmr10","x":3550,"y":37.5},{"p":"14","s":"wmr10","x":3552,"y":38.5},{"p":"14","s":"wmr10","x":3554,"y":38},{"p":"14","s":"wmr10","x":3556,"y":39},{"p":"14","s":"wmr10","x":3558,"y":38.5},{"p":"14","s":"wmr10","x":3560,"y":39.5}
],
"inset": [
{"s":"wmr10","x":3539.9,"y":79.3},{"s":"wmr10","x":3540.49,"y":77.7},{"s":"wmr10","x":3540.98,"y":81.7},{"s":"wmr10","x":3541.31,"y":76},{"s":"wmr10","x":3541.74,"y":83.7},{"s":"wmr10","x":3542.07,"y":77.7},{"s":"wmr10","x":3542.39,"y":82.7},{"s":"wmr10","x":3542.79,"y":76},{"s":"wmr10","x":3543.12,"y":81},{"s":"wmr10","x":3543.44,"y":74.3},{"s":"wmr10","x":3543.77,"y":76},{"s":"wmr10","x":3544.26,"y":69.3},{"s":"wmr10","x":3544.59,"y":71.7},{"s":"wmr10","x":3544.92,"y":66},{"s":"wmr10","x":3545.25,"y":69.3},{"s":"wmr10","x":3545.58,"y":59.3},{"s":"wmr10","x":3545.84,"y":54.3},{"s":"wmr10","x":3546.07,"y":48.3},{"s":"wmr10","x":3546.33,"y":52.7},{"s":"wmr10","x":3546.56,"y":51},{"s":"wmr10","x":3546.89,"y":57.7},{"s":"wmr10","x":3547.22,"y":56},{"s":"wmr10","x":3547.48,"y":62.7},{"s":"wmr10","x":3547.71,"y":69.3},{"s":"wmr10","x":3547.97,"y":74.3},{"s":"wmr10","x":3548.3,"y":72.7},{"s":"wmr10","x":3548.7,"y":77.7},{"s":"wmr10","x":3549.03,"y":74.3},{"s":"wmr10","x":3549.35,"y":69.3},{"s":"wmr10","x":3549.68,"y":77.7},{"s":"wmr10","x":3550.01,"y":71},{"s":"wmr10","x":3550.34,"y":74.3},{"s":"wmr10","x":3550.67,"y":69.3},{"s":"wmr10","x":3551.16,"y":77.7},{"s":"wmr10","x":3551.49,"y":76},{"s":"wmr10","x":3551.82,"y":77.7},{"s":"wmr10","x":3552.14,"y":71},{"s":"wmr10","x":3552.47,"y":74.3},{"s":"wmr10","x":3552.8,"y":78.3},{"s":"wmr10","x":3553.13,"y":75},{"s":"wmr10","x":3553.46,"y":77.7},{"s":"wmr10","x":3553.79,"y":69.3},{"s":"wmr10","x":3554.11,"y":76},{"s":"wmr10","x":3554.44,"y":71.7},{"s":"wmr10","x":3554.77,"y":77.7},{"s":"wmr10","x":3555.0,"y":78.7}
],
"dashL": [{"s":"ctrl","x":3538.8,"y":289,"y2":264},{"s":"myx","x":3538.8,"y":254,"y2":227},{"s":"wmr30","x":3538.8,"y":216,"y2":189}],
"dashR": [{"s":"ctrl","x":3540.7,"y":290,"y2":264},{"s":"myx","x":3540.7,"y":252,"y2":225},{"s":"wmr30","x":3540.7,"y":217,"y2":190}],
"boxL": [{"x":3538.5,"x2":3549.6,"y":36.3,"y2":16.3}],
"connL": [{"x":3549.6,"y":36.3,"x2":3577.05,"y2":123}],
"frame": [{"x":3538.0,"x2":3556.38,"y":124,"y2":3}],
"insetAxis": [{"x":3540,"x2":3555,"y":39.3}],
"labels": [
{"v":"L","k":"title","t":"DOPE/DOPG/CL","x":3505,"y":349},
{"v":"L","k":"probe","t":"5-PCSL","x":3445.05,"y":306},
{"v":"L","k":"probe","t":"14-PCSL","x":3444.1,"y":106},
{"v":"L","k":"cond","t":"Myxinidin","x":3451.6,"y":270},
{"v":"L","k":"cond","t":"L/P=30","x":3451.6,"y":250},
{"v":"L","k":"cond","t":"WMR","x":3451.6,"y":231},
{"v":"L","k":"cond","t":"L/P=30","x":3451.6,"y":211},
{"v":"L","k":"cond","t":"WMR","x":3451.6,"y":191},
{"v":"L","k":"cond","t":"L/P=10","x":3451.6,"y":166},
{"v":"L","k":"cond","t":"WMR","x":3451.6,"y":61},
{"v":"L","k":"cond","t":"L/P=10","x":3451.6,"y":42},
{"v":"R","k":"title","t":"DOPE/DOPG","x":3505.4,"y":350},
{"v":"R","k":"probe","t":"5-PCSL","x":3444.5,"y":304},
{"v":"R","k":"probe","t":"14-PCSL","x":3441.5,"y":106},
{"v":"R","k":"cond","t":"Myxinidin","x":3451.4,"y":269},
{"v":"R","k":"cond","t":"L/P=30","x":3451.4,"y":250},
{"v":"R","k":"cond","t":"WMR","x":3451.4,"y":227},
{"v":"R","k":"cond","t":"L/P=30","x":3451.4,"y":208},
{"v":"R","k":"cond","t":"WMR","x":3451.4,"y":184},
{"v":"R","k":"cond","t":"L/P=10","x":3451.4,"y":164},
{"v":"R","k":"cond","t":"WMR","x":3452.9,"y":66},
{"v":"R","k":"cond","t":"L/P=10","x":3452.9,"y":48}
]
},
"hconcat": [
{
  "width": 218.7, "height": 359,
  "encoding": {
    "x": {"field": "x", "type": "quantitative", "scale": {"domain": [3460, 3560], "nice": false, "zero": false},
      "axis": {"values": [3460,3470,3480,3490,3500,3510,3520,3530,3540,3550,3560], "format": "d", "labelExpr": "datum.value % 20 === 0 ? datum.label : ''", "title": "B/Gauss", "tickSize": -4, "labelPadding": 10, "titlePadding": 10}},
    "y": {"field": "y", "type": "quantitative", "scale": {"domain": [0, 359], "nice": false, "zero": false}, "axis": null}
  },
  "layer": [
    {"data": {"name": "left"}, "mark": {"type": "line", "strokeWidth": 1.8, "strokeJoin": "round"},
     "encoding": {"color": {"field": "s", "type": "nominal", "scale": {"domain": ["ctrl","myx","wmr30","wmr10"], "range": ["#000000","#ff0000","#0000ff","#138a84"]}, "legend": null}, "detail": {"field": "p"}}},
    {"data": {"name": "dashL"}, "mark": {"type": "rule", "strokeWidth": 2, "strokeDash": [9, 5]},
     "encoding": {"y2": {"field": "y2"}, "color": {"field": "s", "type": "nominal", "legend": null}}},
    {"data": {"name": "boxL"}, "mark": {"type": "rect", "filled": false, "color": "#333", "strokeWidth": 1},
     "encoding": {"x2": {"field": "x2"}, "y2": {"field": "y2"}}},
    {"data": {"name": "connL"}, "mark": {"type": "rule", "color": "#444", "strokeWidth": 1},
     "encoding": {"x2": {"field": "x2"}, "y2": {"field": "y2"}}},
    {"data": {"name": "labels"}, "transform": [{"filter": "datum.v === 'L' && datum.k === 'title'"}],
     "mark": {"type": "text", "font": "Liberation Serif", "fontWeight": "bold", "fontSize": 15, "align": "center", "baseline": "middle", "color": "#000"},
     "encoding": {"text": {"field": "t"}}},
    {"data": {"name": "labels"}, "transform": [{"filter": "datum.v === 'L' && datum.k === 'probe'"}],
     "mark": {"type": "text", "font": "Liberation Serif", "fontWeight": "bold", "fontSize": 13, "align": "left", "baseline": "middle", "color": "#000"},
     "encoding": {"text": {"field": "t"}}},
    {"data": {"name": "labels"}, "transform": [{"filter": "datum.v === 'L' && datum.k === 'cond'"}],
     "mark": {"type": "text", "font": "Liberation Serif", "fontSize": 15.5, "align": "left", "baseline": "middle", "color": "#222"},
     "encoding": {"text": {"field": "t"}}}
  ]
},
{
  "width": 254.3, "height": 359,
  "encoding": {
    "x": {"field": "x", "type": "quantitative", "scale": {"domain": [3536.33, 3561.37], "nice": false, "zero": false},
      "axis": {"values": [3540,3542.5,3545,3547.5,3550,3552.5,3555], "format": "d", "labelExpr": "datum.value % 5 === 0 ? datum.label : ''", "title": null, "domain": false, "offset": -39.3, "tickSize": -3, "tickWidth": 1, "labelPadding": 6, "labelFontSize": 9.5, "labelFontWeight": "normal"}},
    "y": {"field": "y", "type": "quantitative", "scale": {"domain": [0, 359], "nice": false, "zero": false}, "axis": null}
  },
  "layer": [
    {"data": {"name": "frame"}, "mark": {"type": "rect", "filled": false, "color": "#333", "strokeWidth": 1},
     "encoding": {"x2": {"field": "x2"}, "y2": {"field": "y2"}}},
    {"data": {"name": "insetAxis"}, "mark": {"type": "rule", "color": "#000", "strokeWidth": 1},
     "encoding": {"x2": {"field": "x2"}}},
    {"data": {"name": "inset"}, "mark": {"type": "line", "strokeWidth": 1.8, "strokeJoin": "round"},
     "encoding": {"color": {"field": "s", "type": "nominal", "scale": {"domain": ["ctrl","myx","wmr30","wmr10"], "range": ["#000000","#ff0000","#0000ff","#138a84"]}, "legend": null}}}
  ]
},
{
  "width": 218, "height": 357,
  "encoding": {
    "x": {"field": "x", "type": "quantitative", "scale": {"domain": [3460, 3560], "nice": false, "zero": false},
      "axis": {"values": [3460,3470,3480,3490,3500,3510,3520,3530,3540,3550,3560], "format": "d", "labelExpr": "datum.value % 20 === 0 ? datum.label : ''", "title": "B/Gauss", "tickSize": -4, "labelPadding": 10, "titlePadding": 10}},
    "y": {"field": "y", "type": "quantitative", "scale": {"domain": [0, 357], "nice": false, "zero": false}, "axis": null}
  },
  "layer": [
    {"data": {"name": "right"}, "mark": {"type": "line", "strokeWidth": 1.8, "strokeJoin": "round"},
     "encoding": {"color": {"field": "s", "type": "nominal", "scale": {"domain": ["ctrl","myx","wmr30","wmr10"], "range": ["#000000","#ff0000","#0000ff","#138a84"]}, "legend": null}, "detail": {"field": "p"}}},
    {"data": {"name": "dashR"}, "mark": {"type": "rule", "strokeWidth": 2, "strokeDash": [9, 5]},
     "encoding": {"y2": {"field": "y2"}, "color": {"field": "s", "type": "nominal", "legend": null}}},
    {"data": {"name": "labels"}, "transform": [{"filter": "datum.v === 'R' && datum.k === 'title'"}],
     "mark": {"type": "text", "font": "Liberation Serif", "fontWeight": "bold", "fontSize": 15, "align": "center", "baseline": "middle", "color": "#000"},
     "encoding": {"text": {"field": "t"}}},
    {"data": {"name": "labels"}, "transform": [{"filter": "datum.v === 'R' && datum.k === 'probe'"}],
     "mark": {"type": "text", "font": "Liberation Serif", "fontWeight": "bold", "fontSize": 13, "align": "left", "baseline": "middle", "color": "#000"},
     "encoding": {"text": {"field": "t"}}},
    {"data": {"name": "labels"}, "transform": [{"filter": "datum.v === 'R' && datum.k === 'cond'"}],
     "mark": {"type": "text", "font": "Liberation Serif", "fontSize": 15.5, "align": "left", "baseline": "middle", "color": "#222"},
     "encoding": {"text": {"field": "t"}}}
  ]
}
]
}
